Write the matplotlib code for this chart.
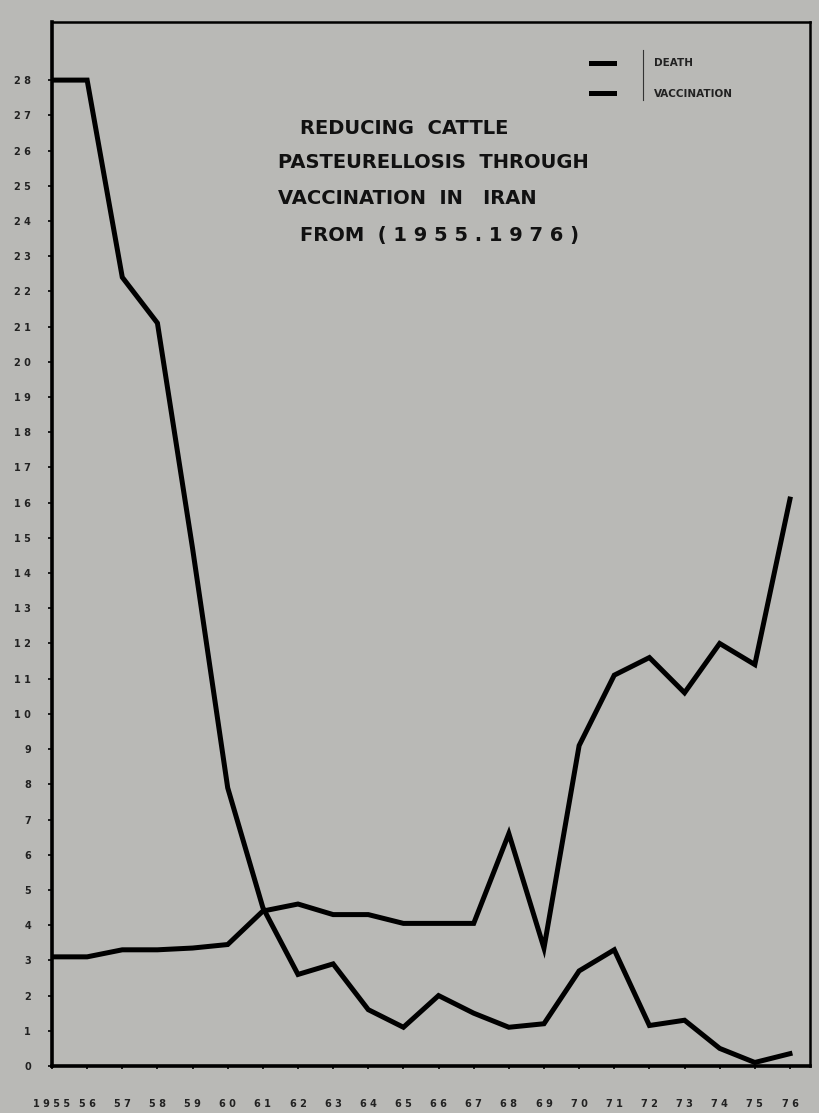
import numpy as np
import matplotlib.pyplot as plt
from matplotlib.lines import Line2D

# values
years = list(range(1955, 1977))
death = [28, 28, 22.4, 21.1, 14.7, 7.9, 4.5, 2.6, 2.9, 1.6, 1.1,
         2.0, 1.5, 1.1, 1.2, 2.7, 3.3, 1.15, 1.3, 0.5, 0.1, 0.35]
vaccination = [3.1, 3.1, 3.3, 3.3, 3.35, 3.45, 4.4, 4.6, 4.3, 4.3, 4.05,
               4.05, 4.05, 6.6, 3.35, 9.1, 11.1, 11.6, 10.6, 12.0, 11.4, 16.1]
year_labels = ['1 9 5 5'] + [' '.join(str(y)[2:]) for y in years[1:]]
y_ticks = list(range(0, 29))
y_labels = [' '.join(str(v)) for v in y_ticks]

title_lines = ['REDUCING  CATTLE',
               'PASTEURELLOSIS  THROUGH',
               'VACCINATION  IN   IRAN',
               'FROM  ( 1 9 5 5 . 1 9 7 6 )']

bg = '#b9b9b6'

'''plot prep'''
fig = plt.figure(figsize=(8.2, 11.13), dpi=100, facecolor=bg)
ax = fig.add_axes([52/820, 47/1113, 758/820, 1044/1113], facecolor=bg)

ax.plot(years, death, color='black', lw=3.6, solid_joinstyle='miter', label='DEATH')
ax.plot(years, vaccination, color='black', lw=3.6, solid_joinstyle='miter', label='VACCINATION')

ax.set_xlim(1955, 1976.57)
ax.set_ylim(0, 29.65)
ax.set_xticks(years)
ax.set_xticklabels(year_labels, fontsize=7, fontweight='bold', color='#222222')
ax.set_yticks(y_ticks)
ax.set_yticklabels(y_labels, fontsize=7, fontweight='bold', color='#222222')
ax.tick_params(axis='y', length=3, width=1.2, pad=12)
ax.tick_params(axis='x', length=2, width=1.2, pad=22)

for side in ['left', 'bottom']:
    ax.spines[side].set_linewidth(2.6)
for side in ['top', 'right']:
    ax.spines[side].set_linewidth(1.8)

'''title block'''
xs = [300, 278, 278, 300]
ys = [128, 162, 198, 236]
for txt, x, y in zip(title_lines, xs, ys):
    fig.text(x/820, 1 - y/1113, txt, fontsize=14, fontweight='bold',
             ha='left', va='center', color='#111111')

'''legend'''
leg = ax.legend(loc='upper left', bbox_to_anchor=(586/820, 1 - 53/1113),
                bbox_transform=fig.transFigure, frameon=False, borderpad=0,
                handlelength=2.2, handletextpad=3.8, labelspacing=2.0,
                prop={'size': 7.5, 'weight': 'bold'})
for t in leg.get_texts():
    t.set_color('#222222')
fig.add_artist(Line2D([643/820, 643/820], [1 - 50/1113, 1 - 100/1113],
                      transform=fig.transFigure, color='#333333', lw=0.8))

fig.savefig('out.png', dpi=100, facecolor=bg)
